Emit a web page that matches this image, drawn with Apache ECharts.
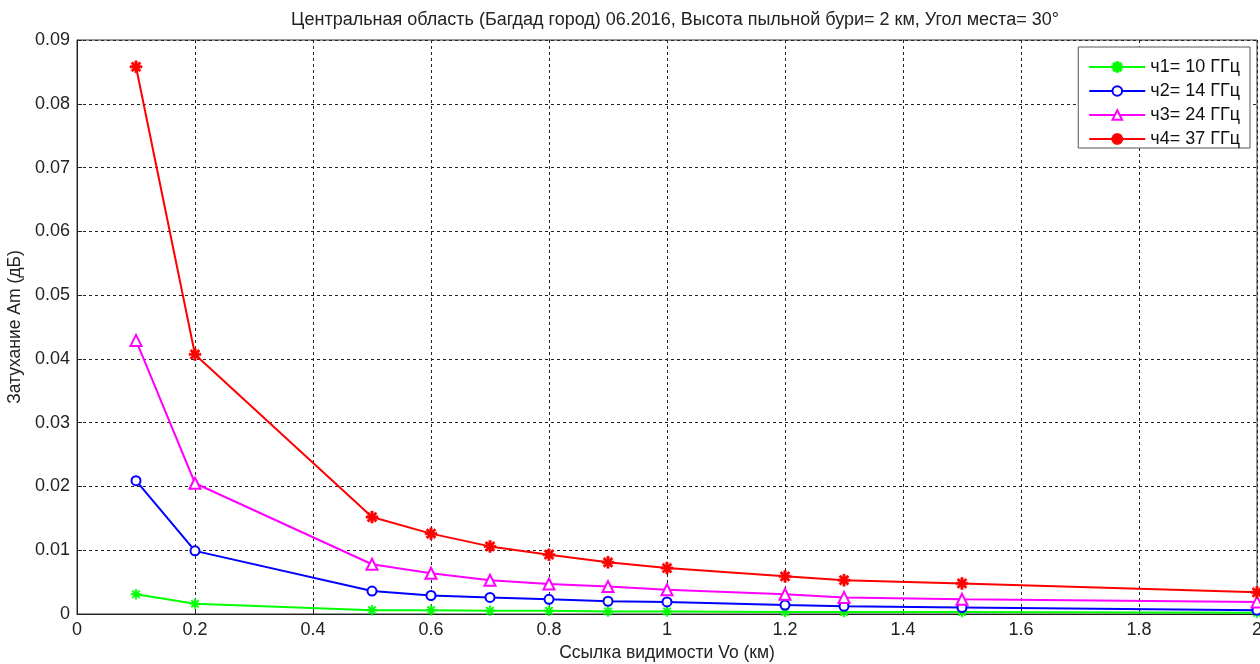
<!DOCTYPE html>
<html>
<head>
<meta charset="utf-8">
<script src="https://cdn.jsdelivr.net/npm/echarts@6/dist/echarts.min.js"></script>
<style>
  html, body { margin: 0; padding: 0; background: #fff; }
  #chart { width: 1260px; height: 664px; }
</style>
</head>
<body>
<div id="chart"></div>
<script>
// Visibility range Vo (km)
const visibility = [0.1, 0.2, 0.5, 0.6, 0.7, 0.8, 0.9, 1.0, 1.2, 1.3, 1.5, 2.0];

// Attenuation Am (dB) per frequency
const att10 = [0.0031, 0.0016, 0.0006, 0.0006, 0.0005, 0.0005, 0.0004, 0.0004, 0.0003, 0.0003, 0.0003, 0.0002];
const att14 = [0.0209, 0.0099, 0.0036, 0.0029, 0.0026, 0.0023, 0.0020, 0.0019, 0.0014, 0.0012, 0.0010, 0.0006];
const att24 = [0.0429, 0.0205, 0.0078, 0.0064, 0.0053, 0.0047, 0.0043, 0.0038, 0.0031, 0.0026, 0.0023, 0.0019];
const att37 = [0.0858, 0.0407, 0.0152, 0.0126, 0.0106, 0.0093, 0.0081, 0.0072, 0.0059, 0.0053, 0.0048, 0.0034];

const seriesNames = ['ч1= 10 ГГц', 'ч2= 14 ГГц', 'ч3= 24 ГГц', 'ч4= 37 ГГц'];
const seriesColors = ['#00ff00', '#0000ff', '#ff00ff', '#ff0000'];

const titleText = 'Центральная область (Багдад город) 06.2016, Высота пыльной бури= 2 км, Угол места= 30°';
const xName = 'Ссылка видимости Vo (км)';
const yName = 'Затухание Am (дБ)';

const FONT = 'Liberation Sans, Arial, sans-serif';

// Filled asterisk: four thin bars (plus + cross) joined with the same winding
function asteriskPath(halfWidth) {
  let d = '';
  [0, 45, 90, 135].forEach(deg => {
    const a = deg * Math.PI / 180;
    const ux = Math.cos(a), uy = Math.sin(a);
    const px = -uy * halfWidth, py = ux * halfWidth;
    const pts = [
      [ux * 100 + px * 100, uy * 100 + py * 100],
      [-ux * 100 + px * 100, -uy * 100 + py * 100],
      [-ux * 100 - px * 100, -uy * 100 - py * 100],
      [ux * 100 - px * 100, uy * 100 - py * 100]
    ];
    d += 'M' + pts.map(p => p[0].toFixed(1) + ',' + p[1].toFixed(1)).join('L') + 'Z';
  });
  return 'path://' + d;
}

function pairs(ys) { return visibility.map((x, i) => [x, ys[i]]); }
function fmt(v) { return String(+v.toFixed(3)); }

const markerDefs = [
  { symbol: asteriskPath(0.15), size: 10 },
  { symbol: 'emptyCircle', size: 9 },
  { symbol: 'emptyTriangle', size: 11 },
  { symbol: asteriskPath(0.2), size: 12 }
];
const dataSets = [att10, att14, att24, att37];

const series = dataSets.map((ys, i) => ({
  name: seriesNames[i],
  type: 'line',
  data: pairs(ys),
  symbol: markerDefs[i].symbol,
  symbolSize: markerDefs[i].size,
  showAllSymbol: true,
  lineStyle: { color: seriesColors[i], width: 2 },
  itemStyle: {
    color: seriesColors[i],
    borderColor: seriesColors[i],
    borderWidth: (i === 1 || i === 2) ? 1.6 : 0.5
  },
  emphasis: { disabled: true },
  z: 3 + i,
  animation: false
}));

const chart = echarts.init(document.getElementById('chart'), null, { renderer: 'canvas' });
chart.setOption({
  backgroundColor: '#fff',
  animation: false,
  title: {
    text: titleText,
    left: 670,
    textAlign: 'center',
    top: 6,
    textStyle: { fontFamily: FONT, fontSize: 18, fontWeight: 'normal', color: '#222' }
  },
  grid: {
    left: 77, right: 3, top: 40, bottom: 50,
    outerBoundsMode: 'none',
    containLabel: false,
    show: true, borderColor: '#333', borderWidth: 1, backgroundColor: '#fff'
  },
  legend: {
    orient: 'vertical',
    right: 10,
    top: 47,
    padding: [11, 10, 0, 10],
    itemGap: 6,
    itemWidth: 56,
    itemHeight: 12,
    backgroundColor: '#fff',
    borderColor: '#555',
    borderWidth: 1,
    textStyle: { fontFamily: FONT, fontSize: 18, lineHeight: 18, color: '#111' },
    data: seriesNames
  },
  xAxis: {
    type: 'value',
    min: 0, max: 2, interval: 0.2,
    name: xName,
    nameLocation: 'middle',
    nameGap: 30,
    nameTextStyle: { fontFamily: FONT, fontSize: 17.5, color: '#222' },
    axisLine: { show: true, onZero: false, lineStyle: { color: '#222' } },
    axisTick: { show: true, inside: true, length: 5, lineStyle: { color: '#222' } },
    axisLabel: { fontFamily: FONT, fontSize: 18, color: '#222', margin: 7, formatter: fmt },
    splitLine: { show: true, lineStyle: { color: '#222', type: [3, 3], width: 1 } }
  },
  yAxis: {
    type: 'value',
    min: 0, max: 0.09, interval: 0.01,
    name: yName,
    nameLocation: 'middle',
    nameGap: 50,
    nameTextStyle: { fontFamily: FONT, fontSize: 17.5, color: '#222' },
    axisLine: { show: true, lineStyle: { color: '#222' } },
    axisTick: { show: true, inside: true, length: 5, lineStyle: { color: '#222' } },
    axisLabel: { fontFamily: FONT, fontSize: 18, color: '#222', margin: 7, formatter: fmt },
    splitLine: { show: true, lineStyle: { color: '#222', type: [3, 3], width: 1 } }
  },
  series: series
});
</script>
</body>
</html>
